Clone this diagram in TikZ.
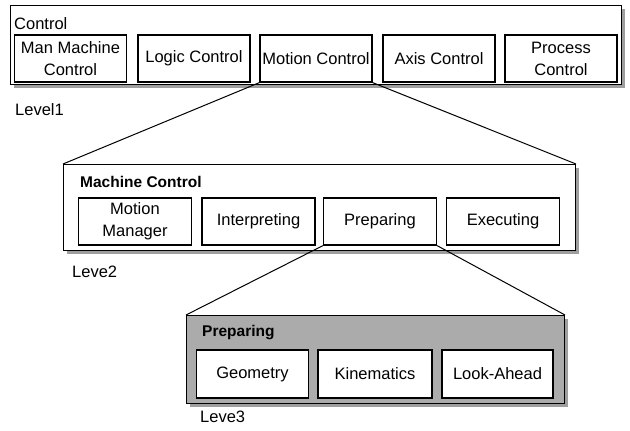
\documentclass[tikz,border=0pt]{standalone}
\usepackage{fontspec}
\setmainfont{Liberation Sans}
\usetikzlibrary{shadows}
\begin{document}
\begin{tikzpicture}[x=1pt,y=-1pt,
  every node/.style={font=\fontsize{16.5}{22}\selectfont},
  frame/.style={draw=black, line width=1pt, fill=white, anchor=north west, inner sep=0pt,
    drop shadow={shadow xshift=3.5pt, shadow yshift=-3.5pt, fill=black!38, opacity=1}},
  grayframe/.style={frame, fill=black!33},
  unit/.style={draw=black, line width=1.25pt, fill=white, inner sep=0pt, align=center,
    minimum width=112pt, minimum height=47pt},
  title/.style={anchor=west, inner sep=0pt},
  boldtitle/.style={title, font=\fontsize{15.5}{18}\selectfont\bfseries},
  levellabel/.style={anchor=west, inner sep=0pt},
  link/.style={draw=black, line width=1pt}
]
\useasboundingbox (0,0) rectangle (630,431);

% ---- Level 1: Control ----
\node[frame, minimum width=611pt, minimum height=79pt] (f1) at (10,5) {};
\node[title] (t1) at (14,24) {Control};
\node[unit] (mmc) at (70.5,58.5) {Man Machine\\Control};
\node[unit] (lc)  at (194,58.5) {Logic Control};
\node[unit] (mc)  at (316,58.5) {Motion Control};
\node[unit] (ac)  at (439,58.5) {Axis Control};
\node[unit] (pc)  at (561,58.5) {Process\\Control};
\node[levellabel] (l1) at (15,110) {Level1};

% ---- Level 2: Machine Control ----
\node[frame, minimum width=512pt, minimum height=86pt] (f2) at (63,164) {};
\node[boldtitle] (t2) at (80,182) {Machine Control};
\node[unit, minimum width=113pt] (mm)  at (135,221.5) {Motion\\Manager};
\node[unit, minimum width=113pt] (ip)  at (258.5,221.5) {Interpreting};
\node[unit, minimum width=113pt] (pr)  at (380,221.5) {Preparing};
\node[unit, minimum width=113pt] (ex)  at (503,221.5) {Executing};
\node[levellabel] (l2) at (72,272) {Leve2};

% ---- Level 3: Preparing ----
\node[grayframe, minimum width=378pt, minimum height=88pt] (f3) at (186,315) {};
\node[boldtitle] (t3) at (202,333) {Preparing};
\node[unit, minimum height=48pt] (geo) at (252.5,374) {Geometry};
\node[unit, minimum height=48pt, minimum width=114pt] (kin) at (375,374) {Kinematics};
\node[unit, minimum height=48pt, minimum width=111pt] (la)  at (497.5,374) {Look-Ahead};
\node[levellabel] (l3) at (200,417) {Leve3};

% ---- zoom-in connectors ----
\draw[link] (mc.south west) -- (f2.north west);
\draw[link] (mc.south east) -- (f2.north east);
\draw[link] (pr.south west) -- (f3.north west);
\draw[link] (pr.south east) -- (f3.north east);
\end{tikzpicture}
\end{document}
